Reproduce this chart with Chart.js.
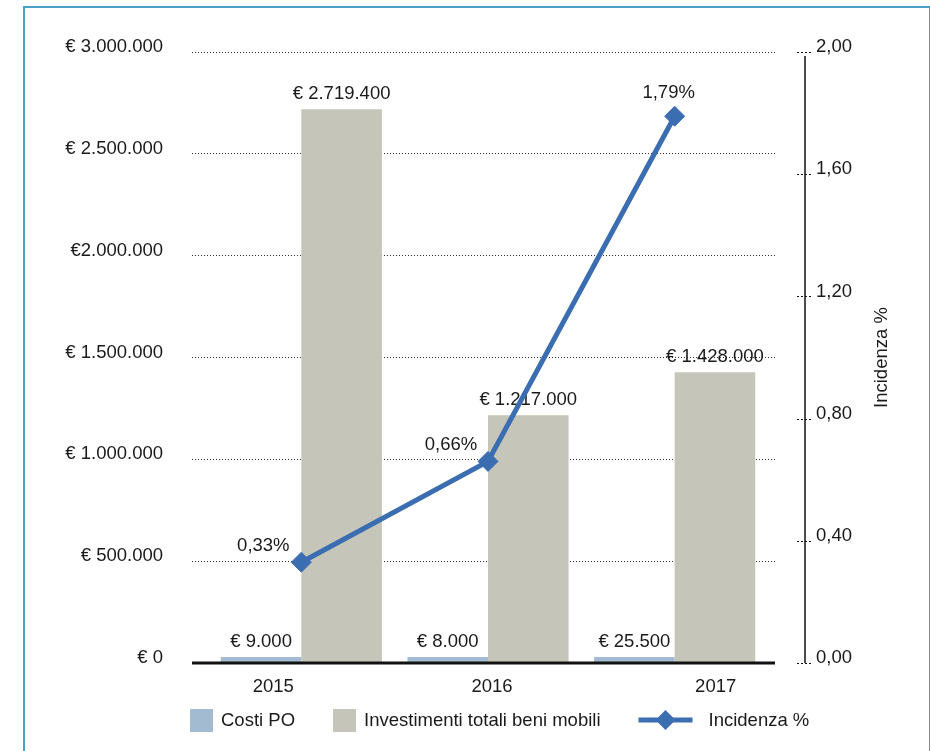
<!DOCTYPE html>
<html>
<head>
<meta charset="utf-8">
<title>Costi PO e investimenti totali beni mobili</title>
<script src="https://cdn.jsdelivr.net/npm/chart.js@4.4.1/dist/chart.umd.min.js"></script>
<style>
  html, body { margin: 0; padding: 0; background: #fff; }
  #wrap { position: relative; width: 930px; height: 751px; overflow: hidden; }
  #wrap canvas { position: absolute; left: 0; top: 0; }
  #frame { position: absolute; left: 23px; top: 6px; width: 904px; height: 800px;
           border: 2px solid #4aa0c6; pointer-events: none; }
</style>
</head>
<body>
<div id="wrap">
  <canvas id="chart" width="930" height="751"></canvas>
  <div id="frame"></div>
</div>
<script>
// Years on the category axis
const years = ['2015', '2016', '2017'];
// Costi PO (euro)
const costiPO = [9000, 8000, 25500];
// Investimenti totali beni mobili (euro)
const investimenti = [2719400, 1217000, 1428000];
// Incidenza % of Costi PO over total investments
const incidenza = [0.33, 0.66, 1.79];
// Tick labels for the two value axes
const leftTickLabels = ['€ 0', '€ 500.000', '€ 1.000.000', '€ 1.500.000', '€2.000.000', '€ 2.500.000', '€ 3.000.000'];
const rightTickLabels = ['0,00', '0,40', '0,80', '1,20', '1,60', '2,00'];

const FONT = '"Liberation Sans", Arial, Helvetica, sans-serif';
const FSIZE = 18.5;
const TEXT = '#1a1a1a';
const COL_COSTI = '#a3bbd0';
const COL_INVEST = '#c5c5b9';
const COL_LINE = '#3b6db1';

Chart.defaults.font.family = FONT;
Chart.defaults.font.size = FSIZE;
Chart.defaults.color = TEXT;

const fmtEuro = v => '€ ' + String(v).replace(/\B(?=(\d{3})+(?!\d))/g, '.');
const fmtPct = v => v.toFixed(2).replace('.', ',') + '%';

// where each percentage label sits relative to its point
const pctLabelShift = [[-38, -16], [-37, -16], [-6, -23]];
// horizontal nudge of each year label from its category centre
const yearLabelShift = [-28, 4, 41];
// the category axis is inset a little inside the plotting area
const catInsetLeft = 16;
const catInsetRight = 7;

const decorations = {
  id: 'decorations',
  afterLayout(chart) {
    const x = chart.scales.x;
    x.left = chart.chartArea.left + catInsetLeft;
    x.right = chart.chartArea.right - catInsetRight;
    x.width = x.right - x.left;
    x.configure();
  },
  // value labels above the bars, drawn before the line so it passes over them
  afterDatasetDraw(chart, args) {
    const ds = chart.data.datasets[args.index];
    if (ds.type === 'line') return;
    const ctx = chart.ctx;
    ctx.save();
    ctx.font = FSIZE + 'px ' + FONT;
    ctx.fillStyle = TEXT;
    ctx.textAlign = 'center';
    ctx.textBaseline = 'alphabetic';
    args.meta.data.forEach((bar, i) => {
      ctx.fillText(fmtEuro(ds.data[i]), bar.x, bar.y - 10);
    });
    ctx.restore();
  },
  afterDatasetsDraw(chart) {
    const ctx = chart.ctx;
    const area = chart.chartArea;
    const yScale = chart.scales.y;
    const xScale = chart.scales.x;
    ctx.save();

    // baseline across the plotting area
    const y0 = yScale.getPixelForValue(0);
    ctx.strokeStyle = '#111';
    ctx.lineWidth = 3;
    ctx.beginPath();
    ctx.moveTo(area.left, y0);
    ctx.lineTo(area.right, y0);
    ctx.stroke();

    ctx.font = FSIZE + 'px ' + FONT;
    ctx.fillStyle = TEXT;

    // year labels under the baseline
    ctx.textAlign = 'center';
    ctx.textBaseline = 'middle';
    years.forEach((yr, i) => {
      ctx.fillText(yr, xScale.getPixelForValue(i) + yearLabelShift[i], y0 + 24);
    });

    // percentage labels on the line
    const lineIdx = chart.data.datasets.findIndex(d => d.type === 'line');
    const lineMeta = chart.getDatasetMeta(lineIdx);
    lineMeta.data.forEach((pt, i) => {
      const [dx, dy] = pctLabelShift[i];
      ctx.fillText(fmtPct(chart.data.datasets[lineIdx].data[i]), pt.x + dx, pt.y + dy);
    });

    // right axis: vertical rule and small dashed tick marks
    const y1 = chart.scales.y1;
    const ax = y1.left + 30;
    ctx.strokeStyle = '#111';
    ctx.lineWidth = 1.5;
    ctx.beginPath();
    ctx.moveTo(ax, y1.getPixelForValue(y1.max) + 4);
    ctx.lineTo(ax, y1.getPixelForValue(y1.min));
    ctx.stroke();
    ctx.lineWidth = 1;
    ctx.setLineDash([2, 2]);
    y1.ticks.forEach(t => {
      const py = Math.round(y1.getPixelForValue(t.value)) + 0.5;
      ctx.beginPath();
      ctx.moveTo(ax - 8, py);
      ctx.lineTo(ax + 8, py);
      ctx.stroke();
    });
    ctx.setLineDash([]);

    // right axis title, reading upwards
    ctx.save();
    ctx.translate(882, (y1.top + y1.bottom) / 2);
    ctx.rotate(-Math.PI / 2);
    ctx.textAlign = 'center';
    ctx.textBaseline = 'middle';
    ctx.fillText('Incidenza %', 0, 0);
    ctx.restore();

    // legend row
    const ly = 720;
    let lx = 190;
    ctx.textAlign = 'left';
    ctx.textBaseline = 'middle';
    const order = [1, 2, lineIdx];
    order.forEach(idx => {
      const ds = chart.data.datasets[idx];
      if (ds.type === 'line') {
        ctx.strokeStyle = ds.borderColor;
        ctx.lineWidth = 5;
        ctx.beginPath();
        ctx.moveTo(lx, ly);
        ctx.lineTo(lx + 54, ly);
        ctx.stroke();
        ctx.fillStyle = ds.borderColor;
        ctx.beginPath();
        ctx.moveTo(lx + 27, ly - 10);
        ctx.lineTo(lx + 37, ly);
        ctx.lineTo(lx + 27, ly + 10);
        ctx.lineTo(lx + 17, ly);
        ctx.closePath();
        ctx.fill();
        ctx.fillStyle = TEXT;
        ctx.fillText(ds.label, lx + 70, ly + 1);
        lx += 70 + ctx.measureText(ds.label).width + 36;
      } else {
        ctx.fillStyle = ds.backgroundColor;
        ctx.fillRect(lx, ly - 11, 23, 23);
        ctx.fillStyle = TEXT;
        ctx.fillText(ds.label, lx + 31, ly + 1);
        lx += 31 + ctx.measureText(ds.label).width + 38;
      }
    });
    ctx.restore();
  }
};

new Chart(document.getElementById('chart'), {
  type: 'bar',
  data: {
    labels: years,
    datasets: [
      {
        type: 'line',
        label: 'Incidenza %',
        data: incidenza,
        yAxisID: 'y1',
        borderColor: COL_LINE,
        backgroundColor: COL_LINE,
        borderWidth: 5,
        pointStyle: 'rectRot',
        pointRadius: 10,
        pointHoverRadius: 10,
        pointBorderWidth: 1,
        pointBorderColor: COL_LINE,
        pointBackgroundColor: COL_LINE,
        tension: 0,
        order: 0
      },
      {
        label: 'Costi PO',
        data: costiPO,
        yAxisID: 'y',
        backgroundColor: COL_COSTI,
        minBarLength: 6,
        order: 1
      },
      {
        label: 'Investimenti totali beni mobili',
        data: investimenti,
        yAxisID: 'y',
        backgroundColor: COL_INVEST,
        order: 1
      }
    ]
  },
  options: {
    responsive: false,
    animation: false,
    layout: { padding: { top: 45, left: 0, right: 0, bottom: 0 } },
    datasets: { bar: { categoryPercentage: 0.863, barPercentage: 1.0 } },
    plugins: { legend: { display: false }, tooltip: { enabled: false } },
    scales: {
      x: {
        grid: { display: false },
        border: { display: false },
        ticks: { display: false },
        afterFit(scale) { scale.height = 88; }
      },
      y: {
        position: 'left',
        min: 0,
        max: 3000000,
        ticks: {
          stepSize: 500000,
          padding: 29,
          labelOffset: -5,
          color: TEXT,
          callback: (v, i) => leftTickLabels[i]
        },
        grid: { color: '#333', lineWidth: 1, drawTicks: false },
        border: { display: false, dash: [1, 2] },
        afterFit(scale) { scale.width = 192; }
      },
      y1: {
        position: 'right',
        min: 0,
        max: 2,
        ticks: {
          stepSize: 0.4,
          padding: 41,
          labelOffset: -5,
          color: TEXT,
          callback: (v, i) => rightTickLabels[i]
        },
        grid: { drawOnChartArea: false, drawTicks: false },
        border: { display: false },
        afterFit(scale) { scale.width = 155; }
      }
    }
  },
  plugins: [decorations]
});
</script>
</body>
</html>
